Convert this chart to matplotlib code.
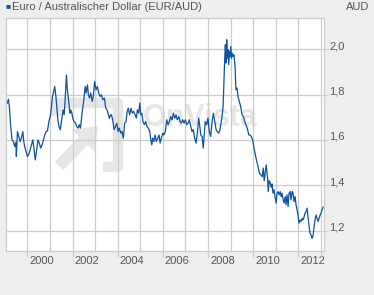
import matplotlib
matplotlib.use('Agg')
import matplotlib.pyplot as plt
import matplotlib.transforms as mtrans

# EUR/AUD (decimal year, rate)
t = [1999.11, 1999.16, 1999.20, 1999.26, 1999.32, 1999.38, 1999.44, 1999.49, 1999.51, 1999.56,
     1999.62, 1999.68, 1999.74, 1999.80, 1999.83, 1999.88, 1999.94, 2000.00, 2000.06, 2000.12,
     2000.18, 2000.24, 2000.30, 2000.35, 2000.42, 2000.47, 2000.53, 2000.59, 2000.65, 2000.71,
     2000.77, 2000.83, 2000.89, 2000.95, 2001.01, 2001.06, 2001.11, 2001.15, 2001.21, 2001.27,
     2001.30, 2001.35, 2001.40, 2001.46, 2001.52, 2001.58, 2001.63, 2001.68, 2001.73, 2001.77,
     2001.83, 2001.88, 2001.92, 2001.97, 2002.01, 2002.07, 2002.13, 2002.19, 2002.25, 2002.30,
     2002.35, 2002.39, 2002.44, 2002.50, 2002.56, 2002.60, 2002.66, 2002.70, 2002.75, 2002.81,
     2002.87, 2002.92, 2002.98, 2003.04, 2003.10, 2003.16, 2003.22, 2003.28, 2003.34, 2003.41,
     2003.47, 2003.53, 2003.59, 2003.63, 2003.69, 2003.72, 2003.78, 2003.84, 2003.90, 2003.96,
     2004.02, 2004.07, 2004.14, 2004.19, 2004.25, 2004.31, 2004.37, 2004.42, 2004.47, 2004.53,
     2004.59, 2004.65, 2004.71, 2004.77, 2004.83, 2004.87, 2004.93, 2004.98, 2005.02, 2005.07,
     2005.12, 2005.18, 2005.24, 2005.30, 2005.36, 2005.42, 2005.47, 2005.51, 2005.55, 2005.60,
     2005.66, 2005.71, 2005.78, 2005.83, 2005.88, 2005.93, 2006.00, 2006.05, 2006.11, 2006.17,
     2006.23, 2006.29, 2006.35, 2006.41, 2006.47, 2006.53, 2006.59, 2006.64, 2006.71, 2006.76,
     2006.82, 2006.88, 2006.94, 2007.00, 2007.06, 2007.12, 2007.17, 2007.24, 2007.29, 2007.35,
     2007.41, 2007.47, 2007.53, 2007.59, 2007.64, 2007.68, 2007.74, 2007.79, 2007.84, 2007.88,
     2007.94, 2008.00, 2008.06, 2008.12, 2008.18, 2008.24, 2008.30, 2008.36, 2008.41, 2008.48,
     2008.53, 2008.58, 2008.62, 2008.67, 2008.71, 2008.74, 2008.77, 2008.80, 2008.83, 2008.86,
     2008.89, 2008.92, 2008.95, 2008.98, 2009.01, 2009.04, 2009.07, 2009.11, 2009.15, 2009.20,
     2009.24, 2009.29, 2009.33, 2009.39, 2009.45, 2009.51, 2009.57, 2009.63, 2009.68, 2009.74,
     2009.81, 2009.86, 2009.92, 2009.98, 2010.04, 2010.10, 2010.16, 2010.22, 2010.28, 2010.34,
     2010.40, 2010.45, 2010.49, 2010.54, 2010.58, 2010.64, 2010.67, 2010.71, 2010.75, 2010.80,
     2010.84, 2010.88, 2010.93, 2010.97, 2011.02, 2011.06, 2011.11, 2011.15, 2011.20, 2011.24,
     2011.28, 2011.33, 2011.37, 2011.42, 2011.46, 2011.50, 2011.55, 2011.59, 2011.64, 2011.68,
     2011.73, 2011.77, 2011.81, 2011.86, 2011.90, 2011.95, 2011.99, 2012.03, 2012.08, 2012.12,
     2012.17, 2012.21, 2012.26, 2012.30, 2012.35, 2012.39, 2012.43, 2012.48, 2012.52, 2012.57,
     2012.61, 2012.66, 2012.70, 2012.74, 2012.79, 2012.83, 2012.88, 2012.92, 2012.97, 2013.01,
     2013.05, 2013.10]
eur_aud = [1.763, 1.780, 1.747, 1.659, 1.600, 1.593, 1.571, 1.590, 1.527, 1.637,
           1.615, 1.593, 1.610, 1.637, 1.600, 1.571, 1.549, 1.527, 1.535, 1.556,
           1.578, 1.600, 1.556, 1.512, 1.564, 1.600, 1.585, 1.564, 1.578, 1.600,
           1.622, 1.637, 1.640, 1.681, 1.703, 1.740, 1.792, 1.807, 1.836, 1.785,
           1.747, 1.689, 1.659, 1.645, 1.689, 1.733, 1.711, 1.792, 1.887, 1.821,
           1.770, 1.718, 1.733, 1.718, 1.696, 1.681, 1.674, 1.659, 1.652, 1.667,
           1.652, 1.689, 1.733, 1.777, 1.836, 1.807, 1.843, 1.799, 1.785, 1.807,
           1.770, 1.792, 1.858, 1.821, 1.836, 1.807, 1.792, 1.799, 1.777, 1.785,
           1.740, 1.733, 1.711, 1.696, 1.711, 1.711, 1.689, 1.645, 1.659, 1.674,
           1.637, 1.652, 1.630, 1.637, 1.608, 1.674, 1.681, 1.726, 1.740, 1.711,
           1.740, 1.718, 1.726, 1.711, 1.696, 1.733, 1.718, 1.763, 1.711, 1.718,
           1.681, 1.667, 1.681, 1.659, 1.652, 1.637, 1.600, 1.578, 1.608, 1.593,
           1.622, 1.593, 1.608, 1.622, 1.586, 1.608, 1.630, 1.622, 1.637, 1.689,
           1.667, 1.681, 1.703, 1.689, 1.718, 1.696, 1.711, 1.689, 1.703, 1.681,
           1.674, 1.689, 1.674, 1.689, 1.667, 1.674, 1.689, 1.659, 1.637, 1.645,
           1.608, 1.586, 1.630, 1.696, 1.659, 1.622, 1.615, 1.564, 1.630, 1.681,
           1.667, 1.696, 1.637, 1.615, 1.680, 1.718, 1.681, 1.645, 1.637, 1.630,
           1.645, 1.674, 1.703, 1.747, 1.865, 1.954, 2.020, 1.939, 2.042, 1.961,
           1.998, 1.932, 1.990, 1.968, 2.012, 1.961, 1.983, 1.968, 1.976, 1.924,
           1.821, 1.829, 1.792, 1.770, 1.747, 1.711, 1.703, 1.681, 1.667, 1.652,
           1.622, 1.622, 1.615, 1.600, 1.564, 1.534, 1.505, 1.483, 1.453, 1.446,
           1.438, 1.476, 1.420, 1.460, 1.490, 1.430, 1.372, 1.420, 1.413, 1.391,
           1.406, 1.365, 1.380, 1.350, 1.321, 1.365, 1.372, 1.358, 1.372, 1.350,
           1.365, 1.336, 1.321, 1.350, 1.314, 1.358, 1.306, 1.365, 1.372, 1.336,
           1.372, 1.365, 1.328, 1.350, 1.314, 1.291, 1.269, 1.233, 1.247, 1.240,
           1.254, 1.247, 1.262, 1.277, 1.284, 1.299, 1.262, 1.218, 1.188, 1.180,
           1.166, 1.180, 1.218, 1.247, 1.269, 1.254, 1.240, 1.254, 1.269, 1.277,
           1.291, 1.303]

year_ticks = [2000, 2002, 2004, 2006, 2008, 2010, 2012, 2013]
year_labels = ['2000', '2002', '2004', '2006', '2008', '2010', '2012', '']
odd_years = [2001, 2003, 2005, 2007, 2009, 2011]
rate_ticks = [1.2, 1.4, 1.6, 1.8, 2.0]
title = 'Euro / Australischer Dollar (EUR/AUD)'
unit = 'AUD'

plt.rcParams['font.family'] = ['Liberation Sans', 'DejaVu Sans']
W, H = 374, 295
fig = plt.figure(figsize=(W/100, H/100), dpi=100, facecolor='#eeeeee')
ax = fig.add_axes([5.5/W, 1-251/H, (324-5.5)/W, (251-18)/H])
ax.set_facecolor('white')

# watermark (logo frame, arrow, name) in pixel coords from the top left
wm = '#e6e6e6'
def px(x, y):
    return x / W, 1 - y / H
fx, fy = zip(px(56, 116), px(56, 103), px(118, 103), px(118, 167), px(103, 167))
ax.plot(fx, fy, color=wm, lw=7.5, solid_joinstyle='round', solid_capstyle='butt',
        transform=fig.transFigure, zorder=0.5)
ax.annotate('', xy=px(100, 124), xytext=px(57, 168), xycoords='figure fraction',
            arrowprops=dict(arrowstyle='simple,head_width=2.3,head_length=1.5,tail_width=0.85',
                            color=wm, lw=0), zorder=0.5)
ax.text(143/W, 1-118/H, 'OnVista', transform=fig.transFigure, fontsize=22,
        fontweight='bold', color=wm, ha='left', va='center', zorder=0.5)

ax.plot(t, eur_aud, color='#0d52a3', lw=0.9, zorder=3)

ax.set_xlim(1999.03, 2013.14)
ax.set_ylim(1.11, 2.138)

ax.set_xticks(year_ticks)
ax.set_xticklabels(year_labels)
ax.set_xticks(odd_years, minor=True)
ax.grid(True, which='both', color='#cccccc', lw=0.9, zorder=1)
ax.tick_params(axis='x', which='major', length=4.5, width=0.9, color='#cccccc',
               labelsize=8, labelcolor='#555555', pad=-1)
ax.tick_params(axis='x', which='minor', length=0)
off = mtrans.ScaledTranslation(2/100, 0, fig.dpi_scale_trans)
for lab in ax.get_xticklabels():
    lab.set_horizontalalignment('left')
    lab.set_transform(lab.get_transform() + off)

ax.yaxis.tick_right()
ax.set_yticks(rate_ticks)
ax.set_yticklabels([f'{v:.1f}'.replace('.', ',') for v in rate_ticks])
ax.tick_params(axis='y', length=3, width=0.9, color='#cccccc', labelsize=8,
               labelcolor='#555555', pad=1)
for lab in ax.get_yticklabels():
    lab.set_verticalalignment('baseline')

for s in ax.spines.values():
    s.set_color('#cccccc')
    s.set_linewidth(0.9)

fig.text(5/W, 1-6.5/H, '\u25a0', color='#0d52a3', fontsize=6, ha='left', va='center')
fig.text(12.5/W, 1-6.5/H, title, color='#555555', fontsize=8, ha='left', va='center')
fig.text(369/W, 1-6.5/H, unit, color='#555555', fontsize=8, ha='right', va='center')

fig.savefig('out.png', dpi=100, facecolor=fig.get_facecolor())
